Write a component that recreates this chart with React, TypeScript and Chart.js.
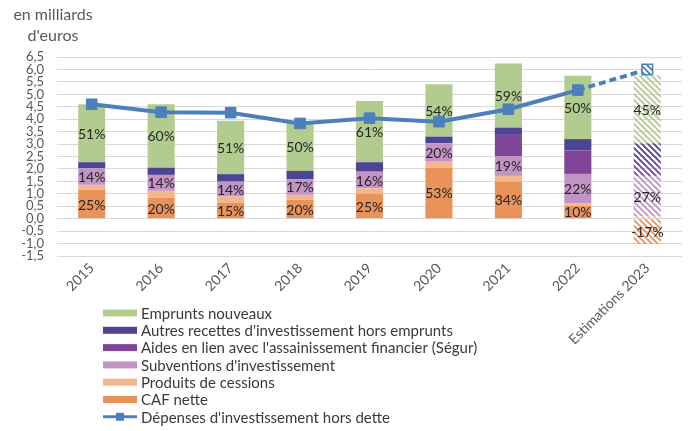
import React, { useEffect, useRef } from 'react';
import { Chart, registerables } from 'chart.js';
Chart.register(...registerables);

const years = ['2015', '2016', '2017', '2018', '2019', '2020', '2021', '2022', 'Estimations 2023'];
const cafNette = [1.16, 0.84, 0.64, 0.76, 1.0, 2.05, 1.49, 0.52, -1.02];
const produitsCessions = [0.2, 0.28, 0.25, 0.2, 0.22, 0.24, 0.23, 0.1, 0.1];
const subventions = [0.67, 0.64, 0.6, 0.63, 0.67, 0.74, 0.8, 1.18, 1.62];
const aidesSegur = [0, 0, 0, 0, 0, 0, 0.85, 0.94, 0.44];
const autresRecettes = [0.24, 0.29, 0.3, 0.33, 0.38, 0.27, 0.29, 0.46, 0.87];
const empruntsNouveaux = [2.33, 2.55, 2.15, 1.98, 2.46, 2.1, 2.58, 2.55, 2.73];
const depensesInvest = [4.6, 4.28, 4.26, 3.83, 4.04, 3.9, 4.4, 5.17, 6.0];

const pctEmprunts = ['51%', '60%', '51%', '50%', '61%', '54%', '59%', '50%', '45%'];
const pctSubventions = ['14%', '14%', '14%', '17%', '16%', '20%', '19%', '22%', '27%'];
const pctCaf = ['25%', '20%', '15%', '20%', '25%', '53%', '34%', '10%', '-17%'];

const yMin = -1.5;
const yMax = 6.5;
const yStep = 0.5;

const colEmprunts = '#b2cc90';
const colAutres = '#4d4494';
const colSegur = '#7f4495';
const colSubv = '#c294c6';
const colCessions = '#f3b68f';
const colCaf = '#e9935a';
const colLine = '#4e7fbd';

function hatch(color: string, bg?: string) {
  const s = 6;
  const c = document.createElement('canvas');
  c.width = s;
  c.height = s;
  const x = c.getContext('2d')!;
  if (bg) {
    x.fillStyle = bg;
    x.fillRect(0, 0, s, s);
  }
  x.strokeStyle = color;
  x.lineWidth = 1.8;
  x.beginPath();
  for (let k = -1; k <= 1; k++) {
    x.moveTo(k * s - 1, -1);
    x.lineTo(k * s + s + 1, s + 1);
  }
  x.stroke();
  return x.createPattern(c, 'repeat')!;
}

export default function App() {
  const ref = useRef<HTMLCanvasElement>(null);

  useEffect(() => {
    document.body.style.margin = '0';
    const canvas = ref.current!;
    const last = years.length - 1;

    const mkBars = (label: string, data: number[], color: string, pct?: string[]) => ({
      type: 'bar' as const,
      label,
      data,
      backgroundColor: data.map((_, i) => (i === last ? hatch(color) : color)),
      legendColor: color,
      stack: 's',
      order: 2,
      barPercentage: 0.39,
      categoryPercentage: 1,
      borderWidth: 0,
      pctLabels: pct,
    });

    const overlay = {
      id: 'overlay',
      afterDatasetsDraw(chart: any) {
        const ctx = chart.ctx;
        ctx.save();
        ctx.font = '14px Lato';
        ctx.fillStyle = '#262626';
        ctx.textAlign = 'center';
        ctx.textBaseline = 'middle';
        chart.data.datasets.forEach((ds: any, di: number) => {
          if (!ds.pctLabels) return;
          const meta = chart.getDatasetMeta(di);
          meta.data.forEach((el: any, i: number) => {
            const t = ds.pctLabels[i];
            if (!t) return;
            const p = el.getProps(['x', 'y', 'base'], true);
            ctx.fillText(t, p.x, (p.y + p.base) / 2 + 1);
          });
        });
        ctx.restore();
      },
      afterDraw(chart: any) {
        const ctx = chart.ctx;
        ctx.save();
        // unit title
        ctx.font = '16px Lato';
        ctx.fillStyle = '#595959';
        ctx.textAlign = 'center';
        ctx.textBaseline = 'middle';
        ctx.fillText('en milliards', 53, 15);
        ctx.fillText("d'euros", 53, 36);
        // legend
        const ds = chart.data.datasets;
        const bars = ds.filter((d: any) => d.type === 'bar').slice().reverse();
        const lines = ds.filter((d: any) => d.type === 'line');
        const items = [...bars, ...lines];
        const x0 = 103;
        const boxW = 34;
        let y = 313;
        ctx.font = '15px Lato';
        ctx.textAlign = 'left';
        items.forEach((d: any) => {
          if (d.type === 'bar') {
            ctx.fillStyle = d.legendColor;
            ctx.fillRect(x0, y - 3.5, boxW, 7);
          } else {
            ctx.strokeStyle = d.borderColor;
            ctx.lineWidth = 3;
            ctx.beginPath();
            ctx.moveTo(x0, y);
            ctx.lineTo(x0 + boxW, y);
            ctx.stroke();
            ctx.fillStyle = d.borderColor;
            ctx.fillRect(x0 + boxW / 2 - 4, y - 4, 8, 8);
          }
          ctx.fillStyle = '#3a3a3a';
          ctx.fillText(d.label, x0 + boxW + 4, y + 1);
          y += 17.3;
        });
        ctx.restore();
      },
    };

    const chart = new Chart(canvas, {
      type: 'bar',
      data: {
        labels: years,
        datasets: [
          mkBars('CAF nette', cafNette, colCaf, pctCaf),
          mkBars('Produits de cessions', produitsCessions, colCessions),
          mkBars("Subventions d'investissement", subventions, colSubv, pctSubventions),
          mkBars("Aides en lien avec l'assainissement financier (Ségur)", aidesSegur, colSegur),
          mkBars("Autres recettes d'investissement hors emprunts", autresRecettes, colAutres),
          mkBars('Emprunts nouveaux', empruntsNouveaux, colEmprunts, pctEmprunts),
          {
            type: 'line' as const,
            label: "Dépenses d'investissement hors dette",
            data: depensesInvest,
            borderColor: colLine,
            backgroundColor: colLine,
            borderWidth: 4,
            tension: 0,
            order: 0,
            pointStyle: 'rect',
            pointRadius: 7.5,
            pointBackgroundColor: depensesInvest.map((_, i) => (i === last ? hatch(colLine, '#ffffff') : colLine)),
            pointBorderColor: colLine,
            pointBorderWidth: depensesInvest.map((_, i) => (i === last ? 1.5 : 1)),
            segment: {
              borderDash: (c: any) => (c.p1DataIndex === last ? [7, 4] : undefined),
            },
          } as any,
        ] as any,
      },
      options: {
        responsive: false,
        animation: false,
        layout: { padding: { top: 57, right: 17, left: 0, bottom: 0 } },
        plugins: {
          legend: { display: false },
          tooltip: { enabled: false },
          title: { display: false },
        },
        scales: {
          x: {
            stacked: true,
            grid: { display: false, drawTicks: false },
            border: { display: false },
            ticks: {
              maxRotation: 45,
              minRotation: 45,
              autoSkip: false,
              padding: 4,
              color: '#595959',
              font: { family: 'Lato', size: 14 },
            },
            afterFit(scale: any) {
              scale.height = 175;
            },
          },
          y: {
            stacked: true,
            min: yMin,
            max: yMax,
            grid: { color: '#d9d9d9', lineWidth: 1, drawTicks: false },
            border: { display: false },
            ticks: {
              stepSize: yStep,
              autoSkip: false,
              padding: 13,
              color: '#595959',
              font: { family: 'Lato', size: 13, lineHeight: 1 },
              callback: (v: any) => Number(v).toFixed(1).replace('.', ','),
            },
            afterFit(scale: any) {
              scale.width = 57;
            },
          },
        },
      } as any,
      plugins: [overlay],
    });

    return () => chart.destroy();
  }, []);

  return <canvas ref={ref} width={699} height={431} style={{ display: 'block', width: 699, height: 431 }} />;
}
